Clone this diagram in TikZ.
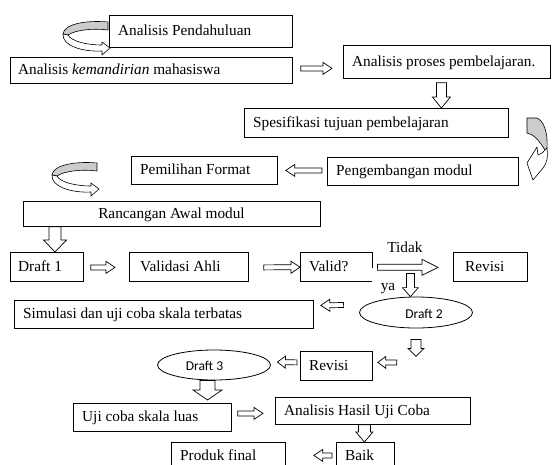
\documentclass[tikz,border=0pt]{standalone}
\usepackage{fontspec}
\setmainfont{Liberation Serif}
\newfontfamily\calfont{Carlito}
\usetikzlibrary{calc,shapes.geometric}
\tikzset{
  box/.style={draw, line width=0.8pt, inner sep=0pt, anchor=north west},
  txt/.style={anchor=west, inner sep=0pt, text height=11pt, text depth=2pt, font=\fontsize{15.3}{17}\selectfont},
  ctxt/.style={txt, anchor=center},
  stxt/.style={anchor=center, inner sep=0pt, font=\calfont\fontsize{13.5}{15}\selectfont},
  oval/.style={draw, ellipse, line width=0.8pt, inner sep=0pt},
  blk/.style n args={3}{draw, fill=white, line width=0.7pt, line join=miter,
    to path={
      ($(\tikztostart)!#1!90:(\tikztotarget)$)
      -- ($($(\tikztotarget)!#3!(\tikztostart)$)!#1!90:(\tikztotarget)$)
      -- ($($(\tikztotarget)!#3!(\tikztostart)$)!#2!90:(\tikztotarget)$)
      -- (\tikztotarget)
      -- ($($(\tikztotarget)!#3!(\tikztostart)$)!#2!-90:(\tikztotarget)$)
      -- ($($(\tikztotarget)!#3!(\tikztostart)$)!#1!-90:(\tikztotarget)$)
      -- ($(\tikztostart)!#1!-90:(\tikztotarget)$)
      -- cycle}},
  hblk/.style={blk={2.5pt}{6pt}{9pt}},
  curl/.style={draw, line width=0.6pt, line join=round},
}
\newcommand\leftcurl[1]{%
  \begin{scope}[shift={#1}]
    \path[curl, fill=gray!40] (0,0) .. controls (-22,-2) and (-44,2) .. (-45,12)
      -- (-40,13) .. controls (-33,8) and (-15,6) .. (0,8) -- cycle;
    \path[curl, fill=white] (-45,12) .. controls (-46,24) and (-25,30) .. (-6,29)
      -- (-6,33) -- (2,26) -- (-6,20) -- (-6,23)
      .. controls (-22,23) and (-37,19) .. (-40,13) -- cycle;
  \end{scope}}
\begin{document}
\begin{tikzpicture}[x=1pt, y=-1pt]
\useasboundingbox (0,0) rectangle (552,464);
\clip (0,0) rectangle (552,464);

% boxes
\node[box, minimum width=183pt, minimum height=32pt] (pend) at (109,15) {};
\node[box, minimum width=282pt, minimum height=26pt] (kem) at (10,57) {};
\node[box, minimum width=207pt, minimum height=33pt] (proses) at (343,45) {};
\node[box, minimum width=264pt, minimum height=29pt] (spes) at (244,108) {};
\node[box, minimum width=146pt, minimum height=28pt] (pemi) at (131,156) {};
\node[box, minimum width=191pt, minimum height=28pt] (peng) at (327,157) {};
\node[box, minimum width=297pt, minimum height=25pt] (ranc) at (23,201) {};
\node[box, minimum width=73pt, minimum height=29pt] (d1) at (10,252) {};
\node[box, minimum width=119pt, minimum height=29pt] (val) at (129,252) {};
\node[anchor=north west, inner sep=0pt, minimum width=72pt, minimum height=29pt] (valid) at (300,252) {};
\draw[line width=0.8pt] ($(valid.north east)+(0,16)$) -- (valid.north east) -- (valid.north west)
  -- (valid.south west) -- (valid.south east);
\node[box, minimum width=74pt, minimum height=29pt] (rev1) at (453,252) {};
\node[box, minimum width=299pt, minimum height=28pt] (sim) at (14,300) {};
\node[box, minimum width=72pt, minimum height=29pt] (rev2) at (300,351) {};
\node[box, minimum width=158pt, minimum height=28pt] (uji) at (73,403) {};
\node[box, minimum width=195pt, minimum height=27pt] (has) at (275,397) {};
\node[box, minimum width=58pt, minimum height=30pt] (baik) at (336,442) {};
\node[box, minimum width=114pt, minimum height=30pt] (prod) at (171,442) {};
\node[oval, minimum width=113pt, minimum height=31pt] (d2) at (416,312.5) {};
\node[oval, minimum width=113pt, minimum height=30pt] (d3) at (214,365) {};

% texts
\node[txt] (pendt) at (118,31) {Analisis Pendahuluan};
\node[txt] (kemt) at (18,70) {Analisis \textit{kemandirian} mahasiswa};
\node[txt] (prost) at (352,62) {Analisis proses pembelajaran.};
\node[txt] (spest) at (253,122.5) {Spesifikasi tujuan pembelajaran};
\node[txt] (pemit) at (140,170) {Pemilihan Format};
\node[txt] (pengt) at (336,171) {Pengembangan modul};
\node[ctxt] (ranct) at (171.5,213.5) {Rancangan Awal modul};
\node[txt] (d1t) at (18,267) {Draft 1};
\node[txt] (valt) at (140,267) {Validasi Ahli};
\node[txt] (vldt) at (309,267) {Valid?};
\node[txt] (revt) at (465,267) {Revisi};
\node[ctxt] (tidak) at (405,248) {Tidak};
\node[ctxt] (ya) at (388,286) {ya};
\node[stxt] (d2t) at (424,314) {Draft 2};
\node[txt] (simt) at (23,314) {Simulasi dan uji coba skala terbatas};
\node[txt] (rev2t) at (309,366) {Revisi};
\node[stxt] (d3t) at (204.5,366) {Draft 3};
\node[txt] (ujit) at (82,417) {Uji coba skala luas};
\node[txt] (hast) at (284,410.5) {Analisis Hasil Uji Coba};
\node[txt] (baikt) at (345,456) {Baik};
\node[txt] (prodt) at (180,456) {Produk final};

% arrow end points
\coordinate (a1s) at ($(kem.east)+(8,-2)$);
\coordinate (a1e) at ($(proses.west)+(-11,6.5)$);
\coordinate (a2s) at ($(proses.south)+(-5.5,4)$);
\coordinate (a2e) at (a2s |- spes.north);
\coordinate (a3s) at ($(peng.west)+(-5,-1)$);
\coordinate (a3e) at ($(pemi.east)+(8,0)$);
\coordinate (a4s) at ($(ranc.south west)+(32,0)$);
\coordinate (a4e) at (a4s |- d1.north);
\coordinate (a5s) at ($(d1.east)+(7,0.5)$);
\coordinate (a5e) at ($(val.west)+(-14,0.5)$);
\coordinate (a6s) at ($(val.east)+(15,0.5)$);
\coordinate (a6e) at ($(valid.west)+(0,0.5)$);
\coordinate (a7s) at ($(valid.east)+(5,0.5)$);
\coordinate (a7e) at ($(rev1.west)+(-15,0.5)$);
\coordinate (a8s) at ($(valid.south east)+(38,-8)$);
\coordinate (a8e) at (a8s |- d2.north);
\coordinate (a9s) at ($(d2.west)+(-15.5,-7.5)$);
\coordinate (a9e) at ($(sim.east)+(7,-9)$);
\coordinate (a10s) at ($(d2.south)+(0,11)$);
\coordinate (a10e) at ($(a10s)+(0,17)$);
\coordinate (a11s) at ($(rev2.east)+(24,-3.5)$);
\coordinate (a11e) at ($(rev2.east)+(5,-3.5)$);
\coordinate (a12s) at ($(rev2.west)+(-3,-3.5)$);
\coordinate (a12e) at ($(d3.east)+(6.5,-3)$);
\coordinate (a13s) at ($(d3.south)+(-6.5,0)$);
\coordinate (a13e) at ($(a13s |- uji.north)+(0,-3)$);
\coordinate (a14s) at ($(uji.east)+(6,-4)$);
\coordinate (a14e) at ($(has.west)+(-12,2.5)$);
\coordinate (a15s) at ($(has.south)+(-8.5,0)$);
\coordinate (a15e) at (a15s |- baik.north);
\coordinate (a16s) at ($(baik.west)+(-4,-2)$);
\coordinate (a16e) at ($(prod.east)+(28,-2)$);

% block arrows
\draw[hblk] (a1s) to (a1e);
\draw[blk={5pt}{9pt}{11pt}] (a2s) to (a2e);
\draw[hblk] (a3s) to (a3e);
\draw[blk={6pt}{11.5pt}{12pt}] (a4s) to (a4e);
\draw[hblk] (a5s) to (a5e);
\draw[hblk] (a6s) to (a6e);
\draw[blk={3pt}{8pt}{16pt}] (a7s) to (a7e);
\draw[blk={4pt}{8pt}{9pt}] (a8s) to (a8e);
\draw[hblk] (a9s) to (a9e);
\draw[blk={5pt}{8pt}{8pt}] (a10s) to (a10e);
\draw[blk={2.5pt}{6pt}{8pt}] (a11s) to (a11e);
\draw[blk={2.5pt}{6pt}{8pt}] (a12s) to (a12e);
\draw[blk={7.5pt}{14.5pt}{10pt}] (a13s) to (a13e);
\draw[hblk] (a14s) to (a14e);
\draw[blk={6pt}{8.5pt}{10pt}] (a15s) to (a15e);
\draw[hblk] (a16s) to (a16e);

% curved arrows
\leftcurl{(108,22)}
\leftcurl{(97,163)}
\begin{scope}[shift={(527,118)}]
  \path[curl, fill=gray!40] (0,0) -- (10,0) .. controls (17,3) and (21,15) .. (20,30)
    -- (18,32) .. controls (12,22) and (6,16) .. (0,15) -- cycle;
  \path[curl, fill=white] (20,30) .. controls (21,40) and (20,45) .. (16,50)
    -- (6,62) -- (0,45) -- (10,29) -- (11,37) .. controls (14,36) and (17,34) .. (18,32) -- cycle;
\end{scope}
\end{tikzpicture}
\end{document}
